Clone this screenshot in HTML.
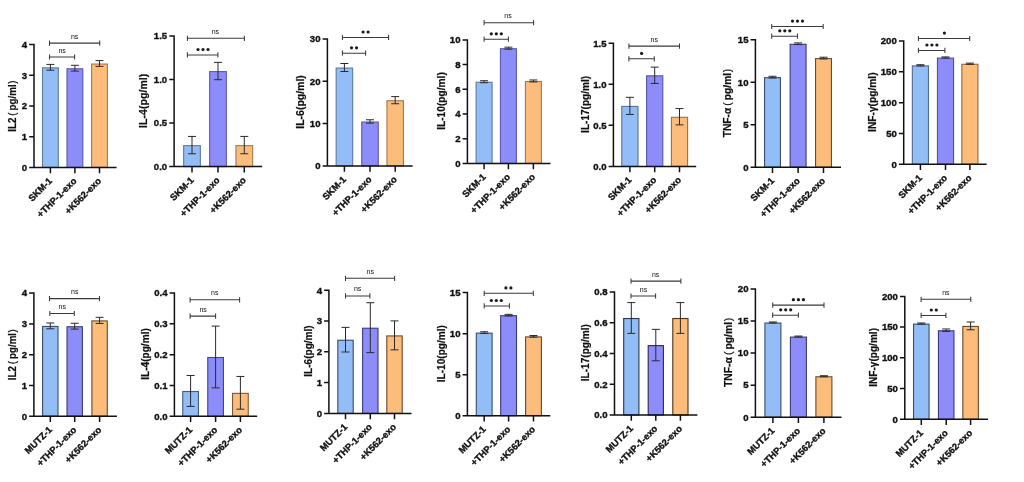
<!DOCTYPE html>
<html><head><meta charset="utf-8"><style>
html,body{margin:0;padding:0;background:#fff;width:1024px;height:482px;overflow:hidden}
svg{display:block;filter:blur(0.35px)}
text{font-family:"Liberation Sans", sans-serif;fill:#111}
text[font-weight=bold]{stroke:#111;stroke-width:0.35px}
text.yl{stroke-width:0.2px}
</style></head><body>
<svg width="1024" height="482" viewBox="0 0 1024 482">
<rect width="1024" height="482" fill="#fff"/>
<g id="p0">
<rect x="42.5" y="67.85" width="15.8" height="99.55" fill="#93bdf6" stroke="#5d79a0" stroke-width="1.1"/>
<rect x="67" y="68.74" width="15.8" height="98.66" fill="#8c8cfb" stroke="#5a5aaa" stroke-width="1.1"/>
<rect x="91.6" y="64.04" width="15.8" height="103.36" fill="#fbbc7c" stroke="#a4784b" stroke-width="1.1"/>
<path d="M50.4 64.41V70.19M46.4 64.41H54.4M46.4 70.19H54.4" stroke="#2a2a2a" stroke-width="1.0" fill="none"/>
<path d="M74.9 65.3V71.08M70.9 65.3H78.9M70.9 71.08H78.9" stroke="#2a2a2a" stroke-width="1.0" fill="none"/>
<path d="M99.5 60.6V66.38M95.5 60.6H103.5M95.5 66.38H103.5" stroke="#2a2a2a" stroke-width="1.0" fill="none"/>
<path d="M34 43.75V167.4H116.6M29.2 167.4H34M29.2 136.68H34M29.2 105.95H34M29.2 75.22H34M29.2 44.5H34M50.4 167.4V173.2M74.9 167.4V173.2M99.5 167.4V173.2" stroke="#111" stroke-width="1.5" fill="none"/>
<text class="tk" x="27.1" y="170.7" text-anchor="end" font-size="9.6" font-weight="bold">0</text>
<text class="tk" x="27.1" y="139.98" text-anchor="end" font-size="9.6" font-weight="bold">1</text>
<text class="tk" x="27.1" y="109.25" text-anchor="end" font-size="9.6" font-weight="bold">2</text>
<text class="tk" x="27.1" y="78.52" text-anchor="end" font-size="9.6" font-weight="bold">3</text>
<text class="tk" x="27.1" y="47.8" text-anchor="end" font-size="9.6" font-weight="bold">4</text>
<text class="yl" transform="translate(16.23 106.15) rotate(-90)" text-anchor="middle" font-size="10.6" font-weight="bold" textLength="51.1" lengthAdjust="spacingAndGlyphs">IL2<tspan font-weight="normal">&#8201;(&#8201;</tspan>pg/ml<tspan font-weight="normal" dx="0.6">)</tspan></text>
<text class="cat" transform="translate(52.7 181.6) rotate(-45)" text-anchor="end" font-size="9.3" font-weight="bold">SKM-1</text>
<text class="cat" transform="translate(77.2 181.6) rotate(-45)" text-anchor="end" font-size="9.3" font-weight="bold">+THP-1-exo</text>
<text class="cat" transform="translate(101.8 181.6) rotate(-45)" text-anchor="end" font-size="9.3" font-weight="bold">+K562-exo</text>
<path d="M49.5 43.1H99.7M49.5 40.5V45.7M99.7 40.5V45.7" stroke="#3a3a3a" stroke-width="1.05" fill="none"/>
<text class="ns" x="74.6" y="38.6" text-anchor="middle" font-size="7.0" fill="#2e2e2e">ns</text>
<path d="M49.5 57H74.6M49.5 54.4V59.6M74.6 54.4V59.6" stroke="#3a3a3a" stroke-width="1.05" fill="none"/>
<text class="ns" x="62.1" y="52.5" text-anchor="middle" font-size="7.0" fill="#2e2e2e">ns</text>
</g>
<g id="p1">
<rect x="183.65" y="145.64" width="16.7" height="20.96" fill="#93bdf6" stroke="#5d79a0" stroke-width="1.1"/>
<rect x="209.65" y="71.59" width="16.7" height="95.01" fill="#8c8cfb" stroke="#5a5aaa" stroke-width="1.1"/>
<rect x="235.95" y="145.64" width="16.7" height="20.96" fill="#fbbc7c" stroke="#a4784b" stroke-width="1.1"/>
<path d="M192 136.43V153.75M188 136.43H196M188 153.75H196" stroke="#2a2a2a" stroke-width="1.0" fill="none"/>
<path d="M218 62.38V79.7M214 62.38H222M214 79.7H222" stroke="#2a2a2a" stroke-width="1.0" fill="none"/>
<path d="M244.3 136.43V153.75M240.3 136.43H248.3M240.3 153.75H248.3" stroke="#2a2a2a" stroke-width="1.0" fill="none"/>
<path d="M174.1 35.15V166.6H262.2M169.3 166.6H174.1M169.3 123.03H174.1M169.3 79.47H174.1M169.3 35.9H174.1M192 166.6V172.4M218 166.6V172.4M244.3 166.6V172.4" stroke="#111" stroke-width="1.5" fill="none"/>
<text class="tk" x="167.2" y="169.9" text-anchor="end" font-size="9.6" font-weight="bold">0.0</text>
<text class="tk" x="167.2" y="126.33" text-anchor="end" font-size="9.6" font-weight="bold">0.5</text>
<text class="tk" x="167.2" y="82.77" text-anchor="end" font-size="9.6" font-weight="bold">1.0</text>
<text class="tk" x="167.2" y="39.2" text-anchor="end" font-size="9.6" font-weight="bold">1.5</text>
<text class="yl" transform="translate(146.93 100.8) rotate(-90)" text-anchor="middle" font-size="10.6" font-weight="bold" textLength="54.2" lengthAdjust="spacingAndGlyphs">IL-4(pg/ml)</text>
<text class="cat" transform="translate(194.3 180.8) rotate(-45)" text-anchor="end" font-size="9.3" font-weight="bold">SKM-1</text>
<text class="cat" transform="translate(220.3 180.8) rotate(-45)" text-anchor="end" font-size="9.3" font-weight="bold">+THP-1-exo</text>
<text class="cat" transform="translate(246.6 180.8) rotate(-45)" text-anchor="end" font-size="9.3" font-weight="bold">+K562-exo</text>
<path d="M187.4 38.3H244.4M187.4 35.7V40.9M244.4 35.7V40.9" stroke="#3a3a3a" stroke-width="1.05" fill="none"/>
<text class="ns" x="215.4" y="33.8" text-anchor="middle" font-size="7.0" fill="#2e2e2e">ns</text>
<path d="M187.4 54.9H217.9M187.4 52.3V57.5M217.9 52.3V57.5" stroke="#3a3a3a" stroke-width="1.05" fill="none"/>
<circle cx="198" cy="49.5" r="1.6" fill="#1a1a1a"/>
<circle cx="203" cy="49.5" r="1.6" fill="#1a1a1a"/>
<circle cx="208" cy="49.5" r="1.6" fill="#1a1a1a"/>
</g>
<g id="p2">
<rect x="336.15" y="68.06" width="16.5" height="97.84" fill="#93bdf6" stroke="#5d79a0" stroke-width="1.1"/>
<rect x="361.75" y="122.01" width="16.5" height="43.89" fill="#8c8cfb" stroke="#5a5aaa" stroke-width="1.1"/>
<rect x="386.95" y="100.73" width="16.5" height="65.17" fill="#fbbc7c" stroke="#a4784b" stroke-width="1.1"/>
<path d="M344.4 63.51V71.52M340.4 63.51H348.4M340.4 71.52H348.4" stroke="#2a2a2a" stroke-width="1.0" fill="none"/>
<path d="M370 119.78V123.15M366 119.78H374M366 123.15H374" stroke="#2a2a2a" stroke-width="1.0" fill="none"/>
<path d="M395.2 96.6V103.76M391.2 96.6H399.2M391.2 103.76H399.2" stroke="#2a2a2a" stroke-width="1.0" fill="none"/>
<path d="M327.4 38.15V165.9H412.6M322.6 165.9H327.4M322.6 123.57H327.4M322.6 81.23H327.4M322.6 38.9H327.4M344.4 165.9V171.7M370 165.9V171.7M395.2 165.9V171.7" stroke="#111" stroke-width="1.5" fill="none"/>
<text class="tk" x="320.5" y="169.2" text-anchor="end" font-size="9.6" font-weight="bold">0</text>
<text class="tk" x="320.5" y="126.87" text-anchor="end" font-size="9.6" font-weight="bold">10</text>
<text class="tk" x="320.5" y="84.53" text-anchor="end" font-size="9.6" font-weight="bold">20</text>
<text class="tk" x="320.5" y="42.2" text-anchor="end" font-size="9.6" font-weight="bold">30</text>
<text class="yl" transform="translate(304.03 101.95) rotate(-90)" text-anchor="middle" font-size="10.6" font-weight="bold" textLength="53.5" lengthAdjust="spacingAndGlyphs">IL-6(pg/ml)</text>
<text class="cat" transform="translate(346.7 180.1) rotate(-45)" text-anchor="end" font-size="9.3" font-weight="bold">SKM-1</text>
<text class="cat" transform="translate(372.3 180.1) rotate(-45)" text-anchor="end" font-size="9.3" font-weight="bold">+THP-1-exo</text>
<text class="cat" transform="translate(397.5 180.1) rotate(-45)" text-anchor="end" font-size="9.3" font-weight="bold">+K562-exo</text>
<path d="M342.4 37.4H388.6M342.4 34.8V40M388.6 34.8V40" stroke="#3a3a3a" stroke-width="1.05" fill="none"/>
<circle cx="363.1" cy="32" r="1.6" fill="#1a1a1a"/>
<circle cx="368.1" cy="32" r="1.6" fill="#1a1a1a"/>
<path d="M342.4 53.2H365.6M342.4 50.6V55.8M365.6 50.6V55.8" stroke="#3a3a3a" stroke-width="1.05" fill="none"/>
<circle cx="351.5" cy="47.8" r="1.6" fill="#1a1a1a"/>
<circle cx="356.5" cy="47.8" r="1.6" fill="#1a1a1a"/>
</g>
<g id="p3">
<rect x="476.1" y="82.25" width="16" height="81.15" fill="#93bdf6" stroke="#5d79a0" stroke-width="1.1"/>
<rect x="500.4" y="48.71" width="16" height="114.69" fill="#8c8cfb" stroke="#5a5aaa" stroke-width="1.1"/>
<rect x="525.4" y="81.51" width="16" height="81.89" fill="#fbbc7c" stroke="#a4784b" stroke-width="1.1"/>
<path d="M484.1 80.71V82.69M480.1 80.71H488.1M480.1 82.69H488.1" stroke="#2a2a2a" stroke-width="1.0" fill="none"/>
<path d="M508.4 47.17V49.15M504.4 47.17H512.4M504.4 49.15H512.4" stroke="#2a2a2a" stroke-width="1.0" fill="none"/>
<path d="M533.4 79.97V81.95M529.4 79.97H537.4M529.4 81.95H537.4" stroke="#2a2a2a" stroke-width="1.0" fill="none"/>
<path d="M467.4 39.15V163.4H550.5M462.6 163.4H467.4M462.6 138.7H467.4M462.6 114H467.4M462.6 89.3H467.4M462.6 64.6H467.4M462.6 39.9H467.4M484.1 163.4V169.2M508.4 163.4V169.2M533.4 163.4V169.2" stroke="#111" stroke-width="1.5" fill="none"/>
<text class="tk" x="460.5" y="166.7" text-anchor="end" font-size="9.6" font-weight="bold">0</text>
<text class="tk" x="460.5" y="142" text-anchor="end" font-size="9.6" font-weight="bold">2</text>
<text class="tk" x="460.5" y="117.3" text-anchor="end" font-size="9.6" font-weight="bold">4</text>
<text class="tk" x="460.5" y="92.6" text-anchor="end" font-size="9.6" font-weight="bold">6</text>
<text class="tk" x="460.5" y="67.9" text-anchor="end" font-size="9.6" font-weight="bold">8</text>
<text class="tk" x="460.5" y="43.2" text-anchor="end" font-size="9.6" font-weight="bold">10</text>
<text class="yl" transform="translate(445.23 101) rotate(-90)" text-anchor="middle" font-size="10.6" font-weight="bold" textLength="57.6" lengthAdjust="spacingAndGlyphs">IL-10(pg/ml)</text>
<text class="cat" transform="translate(486.4 177.6) rotate(-45)" text-anchor="end" font-size="9.3" font-weight="bold">SKM-1</text>
<text class="cat" transform="translate(510.7 177.6) rotate(-45)" text-anchor="end" font-size="9.3" font-weight="bold">+THP-1-exo</text>
<text class="cat" transform="translate(535.7 177.6) rotate(-45)" text-anchor="end" font-size="9.3" font-weight="bold">+K562-exo</text>
<path d="M484.1 22.7H533.6M484.1 20.1V25.3M533.6 20.1V25.3" stroke="#3a3a3a" stroke-width="1.05" fill="none"/>
<text class="ns" x="508" y="18.2" text-anchor="middle" font-size="7.0" fill="#2e2e2e">ns</text>
<path d="M484.1 39.2H508.4M484.1 36.6V41.8M508.4 36.6V41.8" stroke="#3a3a3a" stroke-width="1.05" fill="none"/>
<circle cx="491.3" cy="33.8" r="1.6" fill="#1a1a1a"/>
<circle cx="496.3" cy="33.8" r="1.6" fill="#1a1a1a"/>
<circle cx="501.3" cy="33.8" r="1.6" fill="#1a1a1a"/>
</g>
<g id="p4">
<rect x="621.8" y="106.43" width="16.2" height="59.97" fill="#93bdf6" stroke="#587297" stroke-width="1.1"/>
<rect x="646.6" y="75.83" width="16.2" height="90.57" fill="#8c8cfb" stroke="#5555a2" stroke-width="1.1"/>
<rect x="671.4" y="117.28" width="16.2" height="49.12" fill="#fbbc7c" stroke="#9a7046" stroke-width="1.1"/>
<path d="M629.9 97.31V114.44M625.9 97.31H633.9M625.9 114.44H633.9" stroke="#2a2a2a" stroke-width="1.0" fill="none"/>
<path d="M654.7 67.12V83.44M650.7 67.12H658.7M650.7 83.44H658.7" stroke="#2a2a2a" stroke-width="1.0" fill="none"/>
<path d="M679.5 108.58V124.89M675.5 108.58H683.5M675.5 124.89H683.5" stroke="#2a2a2a" stroke-width="1.0" fill="none"/>
<path d="M613.4 42.55V166.4H696.2M608.6 166.4H613.4M608.6 125.37H613.4M608.6 84.33H613.4M608.6 43.3H613.4M629.9 166.4V172.2M654.7 166.4V172.2M679.5 166.4V172.2" stroke="#111" stroke-width="1.5" fill="none"/>
<text class="tk" x="606.5" y="169.7" text-anchor="end" font-size="9.6" font-weight="bold">0.0</text>
<text class="tk" x="606.5" y="128.67" text-anchor="end" font-size="9.6" font-weight="bold">0.5</text>
<text class="tk" x="606.5" y="87.63" text-anchor="end" font-size="9.6" font-weight="bold">1.0</text>
<text class="tk" x="606.5" y="46.6" text-anchor="end" font-size="9.6" font-weight="bold">1.5</text>
<text class="yl" transform="translate(588.63 104.4) rotate(-90)" text-anchor="middle" font-size="10.6" font-weight="bold" textLength="57" lengthAdjust="spacingAndGlyphs">IL-17(pg/ml)</text>
<text class="cat" transform="translate(632.2 180.6) rotate(-45)" text-anchor="end" font-size="9.3" font-weight="bold">SKM-1</text>
<text class="cat" transform="translate(657 180.6) rotate(-45)" text-anchor="end" font-size="9.3" font-weight="bold">+THP-1-exo</text>
<text class="cat" transform="translate(681.8 180.6) rotate(-45)" text-anchor="end" font-size="9.3" font-weight="bold">+K562-exo</text>
<path d="M628.9 46.1H679.5M628.9 43.5V48.7M679.5 43.5V48.7" stroke="#3a3a3a" stroke-width="1.05" fill="none"/>
<text class="ns" x="654.3" y="41.6" text-anchor="middle" font-size="7.0" fill="#2e2e2e">ns</text>
<path d="M628.9 58.8H654.3M628.9 56.2V61.4M654.3 56.2V61.4" stroke="#3a3a3a" stroke-width="1.05" fill="none"/>
<circle cx="641.6" cy="53.4" r="1.6" fill="#1a1a1a"/>
</g>
<g id="p5">
<rect x="764.55" y="77.69" width="15.9" height="89.51" fill="#93bdf6" stroke="#3a4c68" stroke-width="1.1"/>
<rect x="790.15" y="44.28" width="15.9" height="122.92" fill="#8c8cfb" stroke="#3a3a75" stroke-width="1.1"/>
<rect x="815.55" y="58.61" width="15.9" height="108.59" fill="#fbbc7c" stroke="#6a4a2b" stroke-width="1.1"/>
<path d="M772.5 76.29V77.99M768.5 76.29H776.5M768.5 77.99H776.5" stroke="#2a2a2a" stroke-width="1.0" fill="none"/>
<path d="M798.1 42.88V44.58M794.1 42.88H802.1M794.1 44.58H802.1" stroke="#2a2a2a" stroke-width="1.0" fill="none"/>
<path d="M823.5 57.21V58.91M819.5 57.21H827.5M819.5 58.91H827.5" stroke="#2a2a2a" stroke-width="1.0" fill="none"/>
<path d="M755.4 39V167.2H841M750.6 167.2H755.4M750.6 124.72H755.4M750.6 82.23H755.4M750.6 39.75H755.4M772.5 167.2V173M798.1 167.2V173M823.5 167.2V173" stroke="#111" stroke-width="1.5" fill="none"/>
<text class="tk" x="748.5" y="170.5" text-anchor="end" font-size="9.6" font-weight="bold">0</text>
<text class="tk" x="748.5" y="128.02" text-anchor="end" font-size="9.6" font-weight="bold">5</text>
<text class="tk" x="748.5" y="85.53" text-anchor="end" font-size="9.6" font-weight="bold">10</text>
<text class="tk" x="748.5" y="43.05" text-anchor="end" font-size="9.6" font-weight="bold">15</text>
<text class="yl" transform="translate(731.43 103.1) rotate(-90)" text-anchor="middle" font-size="10.6" font-weight="bold" textLength="68.4" lengthAdjust="spacingAndGlyphs">TNF-α<tspan font-weight="normal">&#8201;(&#8201;</tspan>pg/ml<tspan font-weight="normal" dx="0.6">)</tspan></text>
<text class="cat" transform="translate(774.8 181.4) rotate(-45)" text-anchor="end" font-size="9.3" font-weight="bold">SKM-1</text>
<text class="cat" transform="translate(800.4 181.4) rotate(-45)" text-anchor="end" font-size="9.3" font-weight="bold">+THP-1-exo</text>
<text class="cat" transform="translate(825.8 181.4) rotate(-45)" text-anchor="end" font-size="9.3" font-weight="bold">+K562-exo</text>
<path d="M771.7 26.5H823.2M771.7 23.9V29.1M823.2 23.9V29.1" stroke="#3a3a3a" stroke-width="1.05" fill="none"/>
<circle cx="792.5" cy="21.1" r="1.6" fill="#1a1a1a"/>
<circle cx="797.5" cy="21.1" r="1.6" fill="#1a1a1a"/>
<circle cx="802.5" cy="21.1" r="1.6" fill="#1a1a1a"/>
<path d="M771.7 36.2H797.5M771.7 33.6V38.8M797.5 33.6V38.8" stroke="#3a3a3a" stroke-width="1.05" fill="none"/>
<circle cx="779.8" cy="30.8" r="1.6" fill="#1a1a1a"/>
<circle cx="784.8" cy="30.8" r="1.6" fill="#1a1a1a"/>
<circle cx="789.8" cy="30.8" r="1.6" fill="#1a1a1a"/>
</g>
<g id="p6">
<rect x="912.35" y="65.87" width="16.1" height="98.43" fill="#93bdf6" stroke="#526a8e" stroke-width="1.1"/>
<rect x="937.45" y="58.08" width="16.1" height="106.22" fill="#8c8cfb" stroke="#505099" stroke-width="1.1"/>
<rect x="961.85" y="64.28" width="16.1" height="100.02" fill="#fbbc7c" stroke="#916841" stroke-width="1.1"/>
<path d="M920.4 64.71V65.94M916.4 64.71H924.4M916.4 65.94H924.4" stroke="#2a2a2a" stroke-width="1.0" fill="none"/>
<path d="M945.5 56.91V58.14M941.5 56.91H949.5M941.5 58.14H949.5" stroke="#2a2a2a" stroke-width="1.0" fill="none"/>
<path d="M969.9 63.11V64.34M965.9 63.11H973.9M965.9 64.34H973.9" stroke="#2a2a2a" stroke-width="1.0" fill="none"/>
<path d="M903.7 40.25V164.3H986.6M898.9 164.3H903.7M898.9 133.48H903.7M898.9 102.65H903.7M898.9 71.83H903.7M898.9 41H903.7M920.4 164.3V170.1M945.5 164.3V170.1M969.9 164.3V170.1" stroke="#111" stroke-width="1.5" fill="none"/>
<text class="tk" x="896.8" y="167.6" text-anchor="end" font-size="9.6" font-weight="bold">0</text>
<text class="tk" x="896.8" y="136.78" text-anchor="end" font-size="9.6" font-weight="bold">50</text>
<text class="tk" x="896.8" y="105.95" text-anchor="end" font-size="9.6" font-weight="bold">100</text>
<text class="tk" x="896.8" y="75.12" text-anchor="end" font-size="9.6" font-weight="bold">150</text>
<text class="tk" x="896.8" y="44.3" text-anchor="end" font-size="9.6" font-weight="bold">200</text>
<text class="yl" transform="translate(876.13 102.15) rotate(-90)" text-anchor="middle" font-size="10.6" font-weight="bold" textLength="59.5" lengthAdjust="spacingAndGlyphs">INF-γ(pg/ml)</text>
<text class="cat" transform="translate(922.7 178.5) rotate(-45)" text-anchor="end" font-size="9.3" font-weight="bold">SKM-1</text>
<text class="cat" transform="translate(947.8 178.5) rotate(-45)" text-anchor="end" font-size="9.3" font-weight="bold">+THP-1-exo</text>
<text class="cat" transform="translate(972.2 178.5) rotate(-45)" text-anchor="end" font-size="9.3" font-weight="bold">+K562-exo</text>
<path d="M918.4 38.5H969.7M918.4 35.9V41.1M969.7 35.9V41.1" stroke="#3a3a3a" stroke-width="1.05" fill="none"/>
<circle cx="944.4" cy="33.1" r="1.6" fill="#1a1a1a"/>
<path d="M918.4 50.4H944.9M918.4 47.8V53M944.9 47.8V53" stroke="#3a3a3a" stroke-width="1.05" fill="none"/>
<circle cx="926.9" cy="45" r="1.6" fill="#1a1a1a"/>
<circle cx="931.9" cy="45" r="1.6" fill="#1a1a1a"/>
<circle cx="936.9" cy="45" r="1.6" fill="#1a1a1a"/>
</g>
<g id="p7">
<rect x="42.6" y="326.44" width="15.4" height="89.76" fill="#93bdf6" stroke="#3a4c68" stroke-width="1.1"/>
<rect x="67" y="326.75" width="15.4" height="89.45" fill="#8c8cfb" stroke="#3a3a75" stroke-width="1.1"/>
<rect x="91.9" y="320.92" width="15.4" height="95.28" fill="#fbbc7c" stroke="#6a4a2b" stroke-width="1.1"/>
<path d="M50.3 322.98V328.8M46.3 322.98H54.3M46.3 328.8H54.3" stroke="#2a2a2a" stroke-width="1.0" fill="none"/>
<path d="M74.7 323.28V329.11M70.7 323.28H78.7M70.7 329.11H78.7" stroke="#2a2a2a" stroke-width="1.0" fill="none"/>
<path d="M99.6 317.31V323.44M95.6 317.31H103.6M95.6 323.44H103.6" stroke="#2a2a2a" stroke-width="1.0" fill="none"/>
<path d="M33.9 292.35V416.2H116.9M29.1 416.2H33.9M29.1 385.43H33.9M29.1 354.65H33.9M29.1 323.88H33.9M29.1 293.1H33.9M50.3 416.2V422M74.7 416.2V422M99.6 416.2V422" stroke="#111" stroke-width="1.5" fill="none"/>
<text class="tk" x="27" y="419.5" text-anchor="end" font-size="9.6" font-weight="bold">0</text>
<text class="tk" x="27" y="388.73" text-anchor="end" font-size="9.6" font-weight="bold">1</text>
<text class="tk" x="27" y="357.95" text-anchor="end" font-size="9.6" font-weight="bold">2</text>
<text class="tk" x="27" y="327.18" text-anchor="end" font-size="9.6" font-weight="bold">3</text>
<text class="tk" x="27" y="296.4" text-anchor="end" font-size="9.6" font-weight="bold">4</text>
<text class="yl" transform="translate(16.23 354.7) rotate(-90)" text-anchor="middle" font-size="10.6" font-weight="bold" textLength="51" lengthAdjust="spacingAndGlyphs">IL2<tspan font-weight="normal">&#8201;(&#8201;</tspan>pg/ml<tspan font-weight="normal" dx="0.6">)</tspan></text>
<text class="cat" transform="translate(52.6 430.4) rotate(-45)" text-anchor="end" font-size="9.3" font-weight="bold">MUTZ-1</text>
<text class="cat" transform="translate(77 430.4) rotate(-45)" text-anchor="end" font-size="9.3" font-weight="bold">+THP-1-exo</text>
<text class="cat" transform="translate(101.9 430.4) rotate(-45)" text-anchor="end" font-size="9.3" font-weight="bold">+K562-exo</text>
<path d="M49.5 298.6H99.5M49.5 296V301.2M99.5 296V301.2" stroke="#3a3a3a" stroke-width="1.05" fill="none"/>
<text class="ns" x="74.7" y="294.1" text-anchor="middle" font-size="7.0" fill="#2e2e2e">ns</text>
<path d="M49.8 313.5H74.3M49.8 310.9V316.1M74.3 310.9V316.1" stroke="#3a3a3a" stroke-width="1.05" fill="none"/>
<text class="ns" x="62.2" y="309" text-anchor="middle" font-size="7.0" fill="#2e2e2e">ns</text>
</g>
<g id="p8">
<rect x="182.75" y="391.51" width="15.7" height="24.79" fill="#93bdf6" stroke="#465b7a" stroke-width="1.1"/>
<rect x="207.75" y="357.51" width="15.7" height="58.79" fill="#8c8cfb" stroke="#444487" stroke-width="1.1"/>
<rect x="232.55" y="393.36" width="15.7" height="22.94" fill="#fbbc7c" stroke="#7e5936" stroke-width="1.1"/>
<path d="M190.6 375.52V406.41M186.6 375.52H194.6M186.6 406.41H194.6" stroke="#2a2a2a" stroke-width="1.0" fill="none"/>
<path d="M215.6 326.08V387.85M211.6 326.08H219.6M211.6 387.85H219.6" stroke="#2a2a2a" stroke-width="1.0" fill="none"/>
<path d="M240.4 376.44V409.18M236.4 376.44H244.4M236.4 409.18H244.4" stroke="#2a2a2a" stroke-width="1.0" fill="none"/>
<path d="M174.4 292.25V416.3H257.2M169.6 416.3H174.4M169.6 385.48H174.4M169.6 354.65H174.4M169.6 323.83H174.4M169.6 293H174.4M190.6 416.3V422.1M215.6 416.3V422.1M240.4 416.3V422.1" stroke="#111" stroke-width="1.5" fill="none"/>
<text class="tk" x="167.5" y="419.6" text-anchor="end" font-size="9.6" font-weight="bold">0.0</text>
<text class="tk" x="167.5" y="388.78" text-anchor="end" font-size="9.6" font-weight="bold">0.1</text>
<text class="tk" x="167.5" y="357.95" text-anchor="end" font-size="9.6" font-weight="bold">0.2</text>
<text class="tk" x="167.5" y="327.13" text-anchor="end" font-size="9.6" font-weight="bold">0.3</text>
<text class="tk" x="167.5" y="296.3" text-anchor="end" font-size="9.6" font-weight="bold">0.4</text>
<text class="yl" transform="translate(149.23 354) rotate(-90)" text-anchor="middle" font-size="10.6" font-weight="bold" textLength="51.6" lengthAdjust="spacingAndGlyphs">IL-4(pg/ml)</text>
<text class="cat" transform="translate(192.9 430.5) rotate(-45)" text-anchor="end" font-size="9.3" font-weight="bold">MUTZ-1</text>
<text class="cat" transform="translate(217.9 430.5) rotate(-45)" text-anchor="end" font-size="9.3" font-weight="bold">+THP-1-exo</text>
<text class="cat" transform="translate(242.7 430.5) rotate(-45)" text-anchor="end" font-size="9.3" font-weight="bold">+K562-exo</text>
<path d="M190.1 299.8H239.6M190.1 297.2V302.4M239.6 297.2V302.4" stroke="#3a3a3a" stroke-width="1.05" fill="none"/>
<text class="ns" x="214.7" y="295.3" text-anchor="middle" font-size="7.0" fill="#2e2e2e">ns</text>
<path d="M190.1 316.1H215.6M190.1 313.5V318.7M215.6 313.5V318.7" stroke="#3a3a3a" stroke-width="1.05" fill="none"/>
<text class="ns" x="203.1" y="311.6" text-anchor="middle" font-size="7.0" fill="#2e2e2e">ns</text>
</g>
<g id="p9">
<rect x="337.8" y="340.24" width="15.4" height="73.16" fill="#93bdf6" stroke="#3a4c68" stroke-width="1.1"/>
<rect x="362.6" y="328.23" width="15.4" height="85.17" fill="#8c8cfb" stroke="#3a3a75" stroke-width="1.1"/>
<rect x="386.8" y="335.93" width="15.4" height="77.47" fill="#fbbc7c" stroke="#6a4a2b" stroke-width="1.1"/>
<path d="M345.5 327.37V352.01M341.5 327.37H349.5M341.5 352.01H349.5" stroke="#2a2a2a" stroke-width="1.0" fill="none"/>
<path d="M370.3 302.73V352.63M366.3 302.73H374.3M366.3 352.63H374.3" stroke="#2a2a2a" stroke-width="1.0" fill="none"/>
<path d="M394.5 320.9V349.85M390.5 320.9H398.5M390.5 349.85H398.5" stroke="#2a2a2a" stroke-width="1.0" fill="none"/>
<path d="M328.9 289.45V413.4H411.5M324.1 413.4H328.9M324.1 382.6H328.9M324.1 351.8H328.9M324.1 321H328.9M324.1 290.2H328.9M345.5 413.4V419.2M370.3 413.4V419.2M394.5 413.4V419.2" stroke="#111" stroke-width="1.5" fill="none"/>
<text class="tk" x="322" y="416.7" text-anchor="end" font-size="9.6" font-weight="bold">0</text>
<text class="tk" x="322" y="385.9" text-anchor="end" font-size="9.6" font-weight="bold">1</text>
<text class="tk" x="322" y="355.1" text-anchor="end" font-size="9.6" font-weight="bold">2</text>
<text class="tk" x="322" y="324.3" text-anchor="end" font-size="9.6" font-weight="bold">3</text>
<text class="tk" x="322" y="293.5" text-anchor="end" font-size="9.6" font-weight="bold">4</text>
<text class="yl" transform="translate(311.83 351.05) rotate(-90)" text-anchor="middle" font-size="10.6" font-weight="bold" textLength="51.3" lengthAdjust="spacingAndGlyphs">IL-6(pg/ml)</text>
<text class="cat" transform="translate(347.8 427.6) rotate(-45)" text-anchor="end" font-size="9.3" font-weight="bold">MUTZ-1</text>
<text class="cat" transform="translate(372.6 427.6) rotate(-45)" text-anchor="end" font-size="9.3" font-weight="bold">+THP-1-exo</text>
<text class="cat" transform="translate(396.8 427.6) rotate(-45)" text-anchor="end" font-size="9.3" font-weight="bold">+K562-exo</text>
<path d="M345.5 278.3H394.6M345.5 275.7V280.9M394.6 275.7V280.9" stroke="#3a3a3a" stroke-width="1.05" fill="none"/>
<text class="ns" x="370.3" y="273.8" text-anchor="middle" font-size="7.0" fill="#2e2e2e">ns</text>
<path d="M345.5 295.9H369.9M345.5 293.3V298.5M369.9 293.3V298.5" stroke="#3a3a3a" stroke-width="1.05" fill="none"/>
<text class="ns" x="357.6" y="291.4" text-anchor="middle" font-size="7.0" fill="#2e2e2e">ns</text>
</g>
<g id="p10">
<rect x="476.3" y="333.15" width="15.8" height="82.55" fill="#93bdf6" stroke="#3a4c68" stroke-width="1.1"/>
<rect x="500.7" y="315.7" width="15.8" height="100" fill="#8c8cfb" stroke="#3a3a75" stroke-width="1.1"/>
<rect x="525.6" y="336.89" width="15.8" height="78.81" fill="#fbbc7c" stroke="#6a4a2b" stroke-width="1.1"/>
<path d="M484.2 331.78V333.41M480.2 331.78H488.2M480.2 333.41H488.2" stroke="#2a2a2a" stroke-width="1.0" fill="none"/>
<path d="M508.6 314.34V315.97M504.6 314.34H512.6M504.6 315.97H512.6" stroke="#2a2a2a" stroke-width="1.0" fill="none"/>
<path d="M533.5 335.53V337.16M529.5 335.53H537.5M529.5 337.16H537.5" stroke="#2a2a2a" stroke-width="1.0" fill="none"/>
<path d="M467.4 291.85V415.7H550.3M462.6 415.7H467.4M462.6 374.67H467.4M462.6 333.63H467.4M462.6 292.6H467.4M484.2 415.7V421.5M508.6 415.7V421.5M533.5 415.7V421.5" stroke="#111" stroke-width="1.5" fill="none"/>
<text class="tk" x="460.5" y="419" text-anchor="end" font-size="9.6" font-weight="bold">0</text>
<text class="tk" x="460.5" y="377.97" text-anchor="end" font-size="9.6" font-weight="bold">5</text>
<text class="tk" x="460.5" y="336.93" text-anchor="end" font-size="9.6" font-weight="bold">10</text>
<text class="tk" x="460.5" y="295.9" text-anchor="end" font-size="9.6" font-weight="bold">15</text>
<text class="yl" transform="translate(445.13 353.7) rotate(-90)" text-anchor="middle" font-size="10.6" font-weight="bold" textLength="57.2" lengthAdjust="spacingAndGlyphs">IL-10(pg/ml)</text>
<text class="cat" transform="translate(486.5 429.9) rotate(-45)" text-anchor="end" font-size="9.3" font-weight="bold">MUTZ-1</text>
<text class="cat" transform="translate(510.9 429.9) rotate(-45)" text-anchor="end" font-size="9.3" font-weight="bold">+THP-1-exo</text>
<text class="cat" transform="translate(535.8 429.9) rotate(-45)" text-anchor="end" font-size="9.3" font-weight="bold">+K562-exo</text>
<path d="M484.2 293.3H533.3M484.2 290.7V295.9M533.3 290.7V295.9" stroke="#3a3a3a" stroke-width="1.05" fill="none"/>
<circle cx="505.9" cy="287.9" r="1.6" fill="#1a1a1a"/>
<circle cx="510.9" cy="287.9" r="1.6" fill="#1a1a1a"/>
<path d="M484.2 305.9H509.4M484.2 303.3V308.5M509.4 303.3V308.5" stroke="#3a3a3a" stroke-width="1.05" fill="none"/>
<circle cx="491.3" cy="300.5" r="1.6" fill="#1a1a1a"/>
<circle cx="496.3" cy="300.5" r="1.6" fill="#1a1a1a"/>
<circle cx="501.3" cy="300.5" r="1.6" fill="#1a1a1a"/>
</g>
<g id="p11">
<rect x="623.7" y="318.53" width="15.2" height="96.47" fill="#93bdf6" stroke="#28354b" stroke-width="1.1"/>
<rect x="648.2" y="345.63" width="15.2" height="69.37" fill="#8c8cfb" stroke="#29295a" stroke-width="1.1"/>
<rect x="672.8" y="318.53" width="15.2" height="96.47" fill="#fbbc7c" stroke="#4d331b" stroke-width="1.1"/>
<path d="M631.3 302.58V333.38M627.3 302.58H635.3M627.3 333.38H635.3" stroke="#2a2a2a" stroke-width="1.0" fill="none"/>
<path d="M655.8 329.37V360.79M651.8 329.37H659.8M651.8 360.79H659.8" stroke="#2a2a2a" stroke-width="1.0" fill="none"/>
<path d="M680.4 302.58V333.38M676.4 302.58H684.4M676.4 333.38H684.4" stroke="#2a2a2a" stroke-width="1.0" fill="none"/>
<path d="M614.5 291.15V415H697.4M609.7 415H614.5M609.7 384.23H614.5M609.7 353.45H614.5M609.7 322.68H614.5M609.7 291.9H614.5M631.3 415V420.8M655.8 415V420.8M680.4 415V420.8" stroke="#111" stroke-width="1.5" fill="none"/>
<text class="tk" x="607.6" y="418.3" text-anchor="end" font-size="9.6" font-weight="bold">0.0</text>
<text class="tk" x="607.6" y="387.53" text-anchor="end" font-size="9.6" font-weight="bold">0.2</text>
<text class="tk" x="607.6" y="356.75" text-anchor="end" font-size="9.6" font-weight="bold">0.4</text>
<text class="tk" x="607.6" y="325.98" text-anchor="end" font-size="9.6" font-weight="bold">0.6</text>
<text class="tk" x="607.6" y="295.2" text-anchor="end" font-size="9.6" font-weight="bold">0.8</text>
<text class="yl" transform="translate(589.43 352.7) rotate(-90)" text-anchor="middle" font-size="10.6" font-weight="bold" textLength="57" lengthAdjust="spacingAndGlyphs">IL-17(pg/ml)</text>
<text class="cat" transform="translate(633.6 429.2) rotate(-45)" text-anchor="end" font-size="9.3" font-weight="bold">MUTZ-1</text>
<text class="cat" transform="translate(658.1 429.2) rotate(-45)" text-anchor="end" font-size="9.3" font-weight="bold">+THP-1-exo</text>
<text class="cat" transform="translate(682.7 429.2) rotate(-45)" text-anchor="end" font-size="9.3" font-weight="bold">+K562-exo</text>
<path d="M631 281.1H680.9M631 278.5V283.7M680.9 278.5V283.7" stroke="#3a3a3a" stroke-width="1.05" fill="none"/>
<text class="ns" x="655.6" y="276.6" text-anchor="middle" font-size="7.0" fill="#2e2e2e">ns</text>
<path d="M631 296H655.6M631 293.4V298.6M655.6 293.4V298.6" stroke="#3a3a3a" stroke-width="1.05" fill="none"/>
<text class="ns" x="643.5" y="291.5" text-anchor="middle" font-size="7.0" fill="#2e2e2e">ns</text>
</g>
<g id="p12">
<rect x="764.9" y="323.03" width="16" height="94.17" fill="#93bdf6" stroke="#3a4c68" stroke-width="1.1"/>
<rect x="790.4" y="337.11" width="16" height="80.09" fill="#8c8cfb" stroke="#3a3a75" stroke-width="1.1"/>
<rect x="815.9" y="376.79" width="16" height="40.41" fill="#fbbc7c" stroke="#6a4a2b" stroke-width="1.1"/>
<path d="M772.9 321.97V322.99M768.9 321.97H776.9M768.9 322.99H776.9" stroke="#2a2a2a" stroke-width="1.0" fill="none"/>
<path d="M798.4 336.05V337.07M794.4 336.05H802.4M794.4 337.07H802.4" stroke="#2a2a2a" stroke-width="1.0" fill="none"/>
<path d="M823.9 375.73V376.75M819.9 375.73H827.9M819.9 376.75H827.9" stroke="#2a2a2a" stroke-width="1.0" fill="none"/>
<path d="M755.4 288.25V417.2H841.5M750.6 417.2H755.4M750.6 385.15H755.4M750.6 353.1H755.4M750.6 321.05H755.4M750.6 289H755.4M772.9 417.2V423M798.4 417.2V423M823.9 417.2V423" stroke="#111" stroke-width="1.5" fill="none"/>
<text class="tk" x="748.5" y="420.5" text-anchor="end" font-size="9.6" font-weight="bold">0</text>
<text class="tk" x="748.5" y="388.45" text-anchor="end" font-size="9.6" font-weight="bold">5</text>
<text class="tk" x="748.5" y="356.4" text-anchor="end" font-size="9.6" font-weight="bold">10</text>
<text class="tk" x="748.5" y="324.35" text-anchor="end" font-size="9.6" font-weight="bold">15</text>
<text class="tk" x="748.5" y="292.3" text-anchor="end" font-size="9.6" font-weight="bold">20</text>
<text class="yl" transform="translate(731.63 352.45) rotate(-90)" text-anchor="middle" font-size="10.6" font-weight="bold" textLength="69.1" lengthAdjust="spacingAndGlyphs">TNF-α<tspan font-weight="normal">&#8201;(&#8201;</tspan>pg/ml<tspan font-weight="normal" dx="0.6">)</tspan></text>
<text class="cat" transform="translate(775.2 431.4) rotate(-45)" text-anchor="end" font-size="9.3" font-weight="bold">MUTZ-1</text>
<text class="cat" transform="translate(800.7 431.4) rotate(-45)" text-anchor="end" font-size="9.3" font-weight="bold">+THP-1-exo</text>
<text class="cat" transform="translate(826.2 431.4) rotate(-45)" text-anchor="end" font-size="9.3" font-weight="bold">+K562-exo</text>
<path d="M772.7 305.1H824M772.7 302.5V307.7M824 302.5V307.7" stroke="#3a3a3a" stroke-width="1.05" fill="none"/>
<circle cx="793.4" cy="299.7" r="1.6" fill="#1a1a1a"/>
<circle cx="798.4" cy="299.7" r="1.6" fill="#1a1a1a"/>
<circle cx="803.4" cy="299.7" r="1.6" fill="#1a1a1a"/>
<path d="M772.7 315.2H798.4M772.7 312.6V317.8M798.4 312.6V317.8" stroke="#3a3a3a" stroke-width="1.05" fill="none"/>
<circle cx="780.7" cy="309.8" r="1.6" fill="#1a1a1a"/>
<circle cx="785.7" cy="309.8" r="1.6" fill="#1a1a1a"/>
<circle cx="790.7" cy="309.8" r="1.6" fill="#1a1a1a"/>
</g>
<g id="p13">
<rect x="913.55" y="324.12" width="15.5" height="95.18" fill="#93bdf6" stroke="#3a4c68" stroke-width="1.1"/>
<rect x="938.45" y="330.76" width="15.5" height="88.54" fill="#8c8cfb" stroke="#3a3a75" stroke-width="1.1"/>
<rect x="962.85" y="326.44" width="15.5" height="92.86" fill="#fbbc7c" stroke="#6a4a2b" stroke-width="1.1"/>
<path d="M921.3 322.97V324.18M917.3 322.97H925.3M917.3 324.18H925.3" stroke="#2a2a2a" stroke-width="1.0" fill="none"/>
<path d="M946.2 328.99V331.43M942.2 328.99H950.2M942.2 331.43H950.2" stroke="#2a2a2a" stroke-width="1.0" fill="none"/>
<path d="M970.6 321.99V329.79M966.6 321.99H974.6M966.6 329.79H974.6" stroke="#2a2a2a" stroke-width="1.0" fill="none"/>
<path d="M904.8 295.65V419.3H988M900 419.3H904.8M900 388.57H904.8M900 357.85H904.8M900 327.12H904.8M900 296.4H904.8M921.3 419.3V425.1M946.2 419.3V425.1M970.6 419.3V425.1" stroke="#111" stroke-width="1.5" fill="none"/>
<text class="tk" x="897.9" y="422.6" text-anchor="end" font-size="9.6" font-weight="bold">0</text>
<text class="tk" x="897.9" y="391.88" text-anchor="end" font-size="9.6" font-weight="bold">50</text>
<text class="tk" x="897.9" y="361.15" text-anchor="end" font-size="9.6" font-weight="bold">100</text>
<text class="tk" x="897.9" y="330.43" text-anchor="end" font-size="9.6" font-weight="bold">150</text>
<text class="tk" x="897.9" y="299.7" text-anchor="end" font-size="9.6" font-weight="bold">200</text>
<text class="yl" transform="translate(877.23 357.4) rotate(-90)" text-anchor="middle" font-size="10.6" font-weight="bold" textLength="58.8" lengthAdjust="spacingAndGlyphs">INF-γ(pg/ml)</text>
<text class="cat" transform="translate(923.6 433.5) rotate(-45)" text-anchor="end" font-size="9.3" font-weight="bold">MUTZ-1</text>
<text class="cat" transform="translate(948.5 433.5) rotate(-45)" text-anchor="end" font-size="9.3" font-weight="bold">+THP-1-exo</text>
<text class="cat" transform="translate(972.9 433.5) rotate(-45)" text-anchor="end" font-size="9.3" font-weight="bold">+K562-exo</text>
<path d="M921.1 299.3H970.8M921.1 296.7V301.9M970.8 296.7V301.9" stroke="#3a3a3a" stroke-width="1.05" fill="none"/>
<text class="ns" x="945.9" y="294.8" text-anchor="middle" font-size="7.0" fill="#2e2e2e">ns</text>
<path d="M921.1 315.4H945.9M921.1 312.8V318M945.9 312.8V318" stroke="#3a3a3a" stroke-width="1.05" fill="none"/>
<circle cx="931.3" cy="310" r="1.6" fill="#1a1a1a"/>
<circle cx="936.3" cy="310" r="1.6" fill="#1a1a1a"/>
</g>
</svg></body></html>
